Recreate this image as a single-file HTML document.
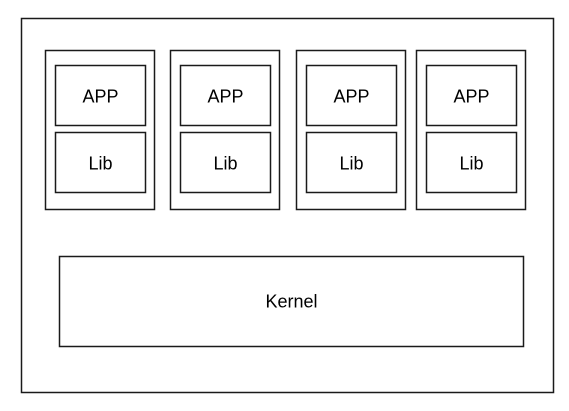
<!DOCTYPE html>
<html><head><style>html,body{margin:0;padding:0;background:#fff}svg{display:block}</style></head>
<body>
<svg width="569" height="411" xmlns="http://www.w3.org/2000/svg" font-family="Liberation Sans, Arial, sans-serif" font-size="18">
<g fill="none" stroke="#1a1a1a" stroke-width="1.5">
<rect x="21.5" y="18.5" width="532" height="374"/>
<rect x="45.5" y="50.5" width="109" height="159"/>
<rect x="55.5" y="65.5" width="90" height="60"/>
<rect x="55.5" y="132.5" width="90" height="60"/>
<rect x="170.5" y="50.5" width="109" height="159"/>
<rect x="180.5" y="65.5" width="90" height="60"/>
<rect x="180.5" y="132.5" width="90" height="60"/>
<rect x="296.5" y="50.5" width="109" height="159"/>
<rect x="306.5" y="65.5" width="90" height="60"/>
<rect x="306.5" y="132.5" width="90" height="60"/>
<rect x="416.5" y="50.5" width="109" height="159"/>
<rect x="426.5" y="65.5" width="90" height="60"/>
<rect x="426.5" y="132.5" width="90" height="60"/>
<rect x="59.5" y="256.5" width="464" height="90"/>
</g>
<g fill="#000" text-anchor="middle">
<text x="100.5" y="102.5">APP</text><text x="100.5" y="169.5">Lib</text>
<text x="225.5" y="102.5">APP</text><text x="225.5" y="169.5">Lib</text>
<text x="351.5" y="102.5">APP</text><text x="351.5" y="169.5">Lib</text>
<text x="471.5" y="102.5">APP</text><text x="471.5" y="169.5">Lib</text>
<text x="291.5" y="307.5">Kernel</text>
</g>
</svg>
</body></html>
